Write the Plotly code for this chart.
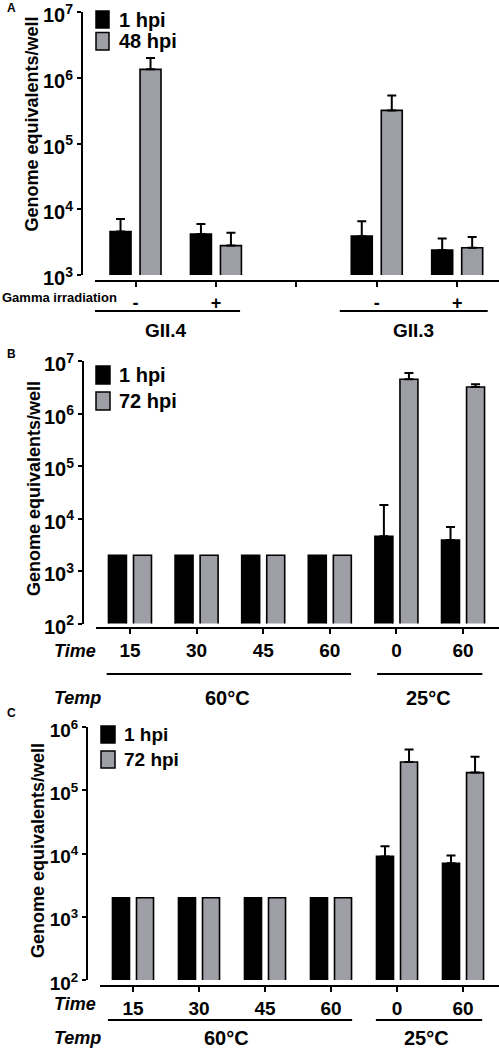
import numpy as np
import plotly.graph_objects as go

W, H = 499, 1050
FONT = "Liberation Sans, Arial, Helvetica, sans-serif"
BLACK = "#000000"
GREY = "#9e9ea6"
nan = np.nan

# ---------------- Panel A data ----------------
A_tick_labels = ["-", "+", "", "-", "+"]          # gamma irradiation
A_slots = [0, 1, 3, 4]                              # slot index of each condition
A_strains = ["GII.4", "GII.3"]
A_series = ["1 hpi", "48 hpi"]
A_1hpi = [4.6e3, 4.2e3, 3.9e3, 2.4e3]
A_1hpi_top = [7.1e3, 6.0e3, 6.6e3, 3.6e3]
A_48hpi = [1.35e6, 2.8e3, 3.2e5, 2.6e3]
A_48hpi_top = [2.0e6, 4.4e3, 5.4e5, 3.8e3]

# ---------------- Panel B data ----------------
B_times = ["15", "30", "45", "60", "0", "60"]
B_temps = ["60°C", "25°C"]
B_series = ["1 hpi", "72 hpi"]
B_1hpi = [2e3, 2e3, 2e3, 2e3, 4.6e3, 3.9e3]
B_1hpi_top = [nan, nan, nan, nan, 1.8e4, 6.9e3]
B_72hpi = [2e3, 2e3, 2e3, 2e3, 4.5e6, 3.2e6]
B_72hpi_top = [nan, nan, nan, nan, 5.9e6, 3.6e6]

# ---------------- Panel C data ----------------
C_times = ["15", "30", "45", "60", "0", "60"]
C_temps = ["60°C", "25°C"]
C_series = ["1 hpi", "72 hpi"]
C_1hpi = [2e3, 2e3, 2e3, 2e3, 9.0e3, 7.0e3]
C_1hpi_top = [nan, nan, nan, nan, 1.3e4, 9.3e3]
C_72hpi = [2e3, 2e3, 2e3, 2e3, 2.8e5, 1.9e5]
C_72hpi_top = [nan, nan, nan, nan, 4.4e5, 3.4e5]

Y_TITLE = "Genome equivalents/well"


def px(x):
    return x / W


def py(y):
    return 1 - y / H


def err(vals, tops):
    v = np.array(vals, dtype=float)
    t = np.array(tops, dtype=float)
    plus = t - v
    minus = np.where(np.isnan(t), nan, 0.0)
    return plus, minus


def sup_labels(exps):
    return [f"10<sup>{e}</sup>" for e in exps]


fig = go.Figure()
annotations = []
shapes = []

panels = [
    dict(n="", x=A_slots, series=[(A_1hpi, A_1hpi_top, BLACK), (A_48hpi, A_48hpi_top, GREY)],
         names=A_series, bw=0.261, offs=(-0.317, 0.056),
         xdom=(95, 499), xr=(-0.504, 4.52), xpos=281, ydom=(12.2, 275), yexp=(3, 7), ypos=82,
         tickvals=list(range(len(A_tick_labels))), ticktext=A_tick_labels, xfs=18, yfs=20),
    dict(n="2", x=list(range(len(B_times))), series=[(B_1hpi, B_1hpi_top, BLACK), (B_72hpi, B_72hpi_top, GREY)],
         names=B_series, bw=0.270, offs=(-0.323, 0.053),
         xdom=(96, 499), xr=(-0.51, 5.54), xpos=628, ydom=(361, 623.5), yexp=(2, 7), ypos=83,
         tickvals=list(range(len(B_times))), ticktext=B_times, xfs=19, yfs=20),
    dict(n="3", x=list(range(len(C_times))), series=[(C_1hpi, C_1hpi_top, BLACK), (C_72hpi, C_72hpi_top, GREY)],
         names=C_series, bw=0.258, offs=(-0.311, 0.053),
         xdom=(100, 499), xr=(-0.5, 5.545), xpos=986, ydom=(727, 980), yexp=(2, 6), ypos=87,
         tickvals=list(range(len(C_times))), ticktext=C_times, xfs=19, yfs=19),
]

layout_axes = {}
for p in panels:
    xa = "x" + p["n"]
    ya = "y" + p["n"]
    for (vals, tops, col), name, off in zip(p["series"], p["names"], p["offs"]):
        plus, minus = err(vals, tops)
        fig.add_trace(go.Bar(
            x=p["x"], y=vals, name=name, xaxis=xa, yaxis=ya,
            width=p["bw"], offset=off,
            marker=dict(color=col, line=dict(color=BLACK, width=1.6)),
            error_y=dict(type="data", symmetric=False, array=plus, arrayminus=minus,
                         color=BLACK, thickness=2, width=4.5),
            showlegend=False,
        ))
    e0, e1 = p["yexp"]
    layout_axes["xaxis" + p["n"]] = dict(
        domain=[px(p["xdom"][0]), px(p["xdom"][1])], range=list(p["xr"]),
        anchor="free", position=py(p["xpos"]), automargin=False,
        showline=True, linecolor=BLACK, linewidth=2,
        ticks="outside", ticklen=5, tickwidth=2, tickcolor=BLACK,
        tickvals=p["tickvals"], ticktext=p["ticktext"], ticklabeloverflow="allow",
        tickfont=dict(family=FONT, size=p["xfs"], color=BLACK, weight="bold"),
        showgrid=False, zeroline=False, fixedrange=True,
    )
    layout_axes["yaxis" + p["n"]] = dict(
        domain=[py(p["ydom"][1]), py(p["ydom"][0])], type="log", range=[e0, e1],
        anchor="free", position=px(p["ypos"]), automargin=False,
        showline=True, linecolor=BLACK, linewidth=2,
        ticks="outside", ticklen=4, tickwidth=2, tickcolor=BLACK,
        tickvals=[10 ** e for e in range(e0, e1 + 1)],
        ticktext=sup_labels(range(e0, e1 + 1)), ticklabeloverflow="allow",
        ticklabelshift=3,
        tickfont=dict(family=FONT, size=p["yfs"], color=BLACK, weight="bold"),
        showgrid=False, zeroline=False, fixedrange=True,
    )


def ann(text, x, y, size, xanchor="center", angle=0, xref="paper", bold=True, italic=False):
    t = text
    if italic:
        t = f"<i>{t}</i>"
    if bold:
        t = f"<b>{t}</b>"
    annotations.append(dict(
        text=t, x=x, y=py(y), xref=xref, yref="paper", xanchor=xanchor, yanchor="middle",
        showarrow=False, textangle=angle, font=dict(family=FONT, size=size, color=BLACK),
    ))


def hline(x0, x1, y, xref):
    shapes.append(dict(type="line", xref=xref, yref="paper", x0=x0, x1=x1, y0=py(y), y1=py(y),
                       line=dict(color=BLACK, width=2)))


def legend_box(x0, x1, y0, y1, col):
    shapes.append(dict(type="rect", xref="paper", yref="paper", x0=px(x0), x1=px(x1),
                       y0=py(y1), y1=py(y0), fillcolor=col, line=dict(color=BLACK, width=1.5)))


# Panel letters
ann("A", px(11), 8.5, 12)
ann("B", px(11.5), 354, 12)
ann("C", px(11), 712.5, 12)

# Y titles
ann(Y_TITLE, px(32), 124.5, 18, angle=-90)
ann(Y_TITLE, px(34), 489, 18, angle=-90)
ann(Y_TITLE, px(38), 851, 18, angle=-90)

# Legends (manual)
legend_box(96, 109, 11, 28, BLACK)
legend_box(96, 109, 32.5, 50, GREY)
ann(A_series[0], px(116.5), 19.5, 20, xanchor="left")
ann(A_series[1], px(116.5), 41.5, 20, xanchor="left")

legend_box(96, 110, 366, 384, BLACK)
legend_box(96, 110, 392, 410, GREY)
ann(B_series[0], px(116.5), 375, 20, xanchor="left")
ann(B_series[1], px(116.5), 401, 20, xanchor="left")

legend_box(101, 115, 726, 743, BLACK)
legend_box(101, 115, 751, 768, GREY)
ann(C_series[0], px(121.5), 734.5, 19, xanchor="left")
ann(C_series[1], px(121.5), 759.5, 19, xanchor="left")

# Panel A grouping
ann("Gamma irradiation", 0.0, 298, 13, xanchor="left")
hline(-0.54, 1.30, 311, "x")
hline(2.54, 4.38, 311, "x")
ann(A_strains[0], 0.38, 330, 19, xref="x")
ann(A_strains[1], 3.46, 330, 19, xref="x")

# Panel B grouping
ann("Time", px(52), 651, 18, xanchor="left", italic=True)
ann("Temp", px(52), 698, 18, xanchor="left", italic=True)
hline(-0.35, 3.32, 674, "x2")
hline(3.71, 5.29, 674, "x2")
ann(B_temps[0], 1.47, 698, 20, xref="x2")
ann(B_temps[1], 4.48, 698, 20, xref="x2")

# Panel C grouping
ann("Time", px(52), 1004, 18, xanchor="left", italic=True)
ann("Temp", px(52), 1038, 18, xanchor="left", italic=True)
hline(-0.38, 3.32, 1020, "x3")
hline(3.68, 5.29, 1020, "x3")
ann(C_temps[0], 1.41, 1038, 20, xref="x3")
ann(C_temps[1], 4.44, 1038, 20, xref="x3")

fig.update_layout(
    width=W, height=H,
    margin=dict(l=0, r=0, t=0, b=0, autoexpand=False),
    paper_bgcolor="white", plot_bgcolor="white",
    barmode="overlay",
    showlegend=False,
    font=dict(family=FONT, color=BLACK),
    annotations=annotations, shapes=shapes,
    **layout_axes,
)

fig.write_html("out.html", config={"displayModeBar": False},
               post_script="document.body.style.margin='0';")
